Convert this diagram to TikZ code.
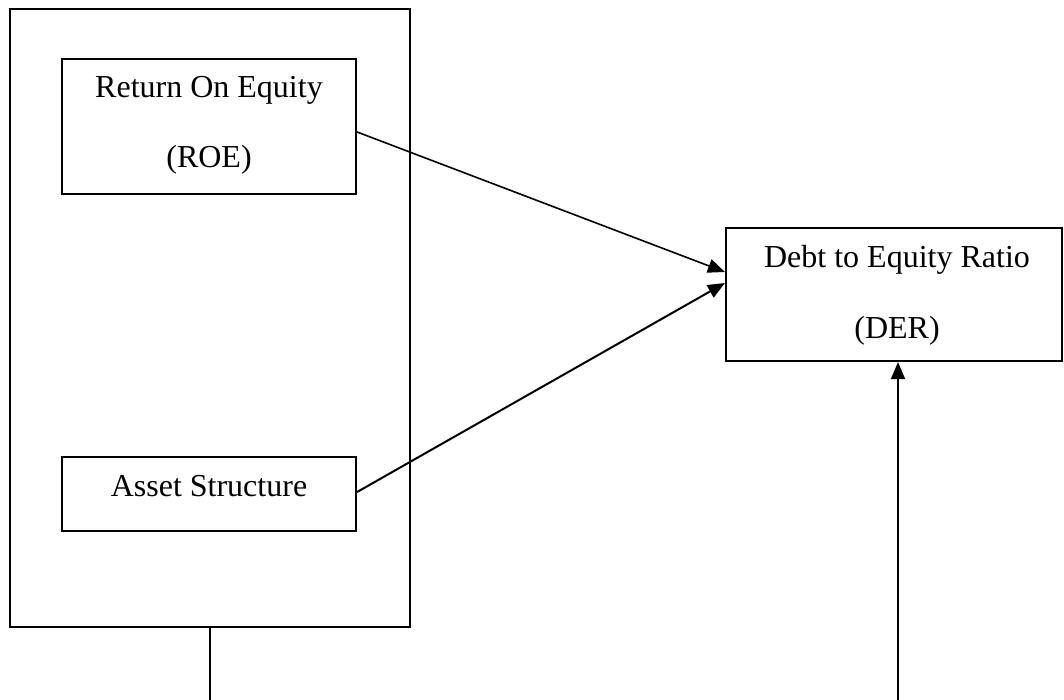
\documentclass[tikz,border=0pt]{standalone}
\usepackage{fontspec}
\setmainfont{Liberation Serif}
\usetikzlibrary{arrows.meta,calc}
\begin{document}
\begin{tikzpicture}[x=1pt,y=-1pt,
  box/.style={draw, line width=2.2pt, inner sep=0pt},
  lbl/.style={font=\fontsize{32}{36}\selectfont, anchor=base, inner sep=0pt},
  conn/.style={line width=2pt, -{Triangle[length=17pt,width=14pt]}},
  plain/.style={line width=2.2pt}]
\useasboundingbox (0,0) rectangle (1064,700);
% outer group box
\node[box, line width=1.8pt, minimum width=400pt, minimum height=618pt] (outer) at (210,318) {};
% inner boxes
\node[box, minimum width=294pt, minimum height=135pt] (roe) at (209,126.5) {};
\node[box, minimum width=294pt, minimum height=74pt] (asset) at (209,494) {};
\node[box, minimum width=336pt, minimum height=133pt] (der) at (894,294.5) {};
% labels
\node[lbl] (roe1) at (209,98) {Return On Equity};
\node[lbl] (roe2) at (209,168) {(ROE)};
\node[lbl] (asset1) at (209,496) {Asset Structure};
\node[lbl] (der1) at (897,268) {Debt to Equity Ratio};
\node[lbl] (der2) at (897,338) {(DER)};
% connectors
\draw[conn, line width=1.6pt] ($(roe.east)+(0,5.5)$) -- ($(der.west)+(0,-22.5)$);
\draw[conn] ($(asset.east)+(0,-2)$) -- ($(der.west)+(0,-11.5)$);
\coordinate (obot) at (210,700);
\coordinate (dbot) at (898,700);
\draw[plain] (outer.south) -- (obot);
\draw[conn] (dbot) -- (dbot |- der.south);
\end{tikzpicture}
\end{document}
